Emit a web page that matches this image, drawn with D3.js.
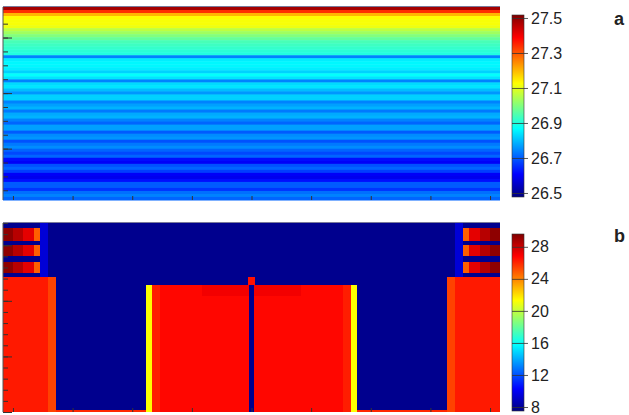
<!DOCTYPE html>
<html>
<head>
<meta charset="utf-8">
<script src="https://cdn.jsdelivr.net/npm/d3@7"></script>
<style>
  body { margin: 0; background: #fff; }
  svg { display: block; font-family: "Liberation Sans", Arial, sans-serif; }
</style>
</head>
<body>
<div id="chart"></div>
<script>
// ---- data ----
// panel a: value of each horizontal layer, top to bottom
var layersA = [27.48, 27.34, 27.20, 27.13, 27.12, 27.12, 27.11, 27.06, 27.03, 27.00,
  26.97, 26.94, 26.93, 26.92, 26.91, 26.90, 26.74, 26.85, 26.86, 26.86,
  26.85, 26.82, 26.87, 26.84, 26.74, 26.83, 26.84, 26.80, 26.76, 26.82,
  26.82, 26.74, 26.77, 26.79, 26.73, 26.78, 26.79, 26.74, 26.71, 26.77,
  26.77, 26.70, 26.75, 26.76, 26.69, 26.73, 26.75, 26.71, 26.68, 26.71,
  26.62, 26.60, 26.69, 26.71, 26.67, 26.60, 26.59, 26.62, 26.70, 26.70,
  26.66, 26.72, 26.74, 26.71];
var ticksA = [26.5, 26.7, 26.9, 27.1, 27.3, 27.5];
var rangeA = [26.477, 27.517];

// panel b: regions [x0, x1, y0, y1, value] in section coordinates
var regionsB = [
  [-250, 250, 0, 170, 7.8],
  // top-left bars
  [-250, -240, 4.5, 16, 29.3], [-240, -230, 4.5, 16, 28.4], [-230, -219, 4.5, 16, 27.4], [-219, -213, 4.5, 16, 24.8],
  [-250, -240, 20, 30, 29.3], [-240, -230, 20, 30, 28.4], [-230, -219, 20, 30, 27.4], [-219, -213, 20, 30, 24.8],
  [-250, -240, 35, 45, 29.3], [-240, -230, 35, 45, 28.4], [-230, -219, 35, 45, 27.4], [-219, -213, 35, 45, 24.8],
  // top-right bars
  [213, 219, 4.5, 16, 24.8], [219, 230, 4.5, 16, 27.4], [230, 240, 4.5, 16, 28.4], [240, 250, 4.5, 16, 29.3],
  [213, 219, 20, 30, 24.8], [219, 230, 20, 30, 27.4], [230, 240, 20, 30, 28.4], [240, 250, 20, 30, 29.3],
  [213, 219, 35, 45, 24.8], [219, 230, 35, 45, 27.4], [230, 240, 35, 45, 28.4], [240, 250, 35, 45, 29.3],
  // thin strips beside the bars
  [-213, -205, 0, 48.5, 9.4], [205, 213, 0, 48.5, 9.4],
  // outer blocks
  [-250, -205, 48.5, 170, 26.3], [-205, -197, 48.5, 170, 25.4],
  [197, 205, 48.5, 170, 25.4], [205, 250, 48.5, 170, 26.3],
  // bottom layer
  [-197, -106, 168, 170, 26.0], [106, 197, 168, 170, 26.0],
  // centre blocks
  [-106, -100, 56, 170, 21.3], [-100, -92, 56, 170, 26.2], [-92, -3, 56, 170, 26.7], [-50, -3, 56, 66, 27.1],
  [3, 92, 56, 170, 26.7], [92, 100, 56, 170, 26.2], [100, 106, 56, 170, 21.3], [3, 50, 56, 66, 27.1],
  [-4, 4, 48.5, 56, 26.5]
];
var ticksB = [8, 12, 16, 20, 24, 28];
var rangeB = [7.5, 29.6];

var xTicks = [-240, -180, -120, -60, 0, 60, 120, 180, 240];
var yTicksA = [0, 10, 20, 30, 40, 50, 60, 70, 80, 90, 100, 110, 120];
var yMajorA = [10, 50, 90];
var yTicksB = [0, 10, 20, 30, 40, 50, 60, 70, 80, 90, 100, 110, 120, 130, 140, 150, 160, 170];
var yMajorB = [20, 70, 120, 170];

// ---- setup ----
var width = 629, height = 415;
var svg = d3.select('#chart').append('svg')
  .attr('width', width)
  .attr('height', height);

var jetStops = [0, 0.125, 0.375, 0.625, 0.875, 1];
var jetColors = ['#000080', '#0000ff', '#00ffff', '#ffff00', '#ff0000', '#800000'];

function jet(range) {
  return d3.scaleLinear()
    .domain(jetStops.map(function(s) { return range[0] + s * (range[1] - range[0]); }))
    .range(jetColors)
    .clamp(true);
}

var colorA = jet(rangeA);
var colorB = jet(rangeB);

var x = d3.scaleLinear().domain([-250, 250]).range([3, 500]);
var yA = d3.scaleLinear().domain([-12, 127]).range([7, 200]);
var rowA = d3.scaleBand().domain(d3.range(layersA.length)).range([7, 200]);
var yB = d3.scaleLinear().domain([0, 170]).range([223, 412]);

// gradient for colorbars
var defs = svg.append('defs');
var grad = defs.append('linearGradient')
  .attr('id', 'jetgrad')
  .attr('x1', 0).attr('y1', 1).attr('x2', 0).attr('y2', 0);
grad.selectAll('stop')
  .data(jetStops)
  .enter().append('stop')
  .attr('offset', function(d) { return d; })
  .attr('stop-color', function(d, i) { return jetColors[i]; });

// ---- panel a ----
var gA = svg.append('g');
gA.selectAll('rect')
  .data(layersA)
  .enter().append('rect')
  .attr('x', x(-250))
  .attr('width', x(250) - x(-250))
  .attr('y', function(d, i) { return rowA(i); })
  .attr('height', rowA.bandwidth() + 0.5)
  .attr('fill', function(d) { return colorA(d); });

// ---- panel b ----
var gB = svg.append('g');
gB.selectAll('rect')
  .data(regionsB)
  .enter().append('rect')
  .attr('x', function(d) { return x(d[0]); })
  .attr('width', function(d) { return x(d[1]) - x(d[0]); })
  .attr('y', function(d) { return yB(d[2]); })
  .attr('height', function(d) { return yB(d[3]) - yB(d[2]); })
  .attr('fill', function(d) { return colorB(d[4]); })
  .attr('shape-rendering', 'crispEdges');

// ---- axes (ticks inside, no labels) ----
function frame(yScale, yTicks, yMajor) {
  var top = yScale.range()[0], bottom = yScale.range()[1];
  var g = svg.append('g');
  g.append('g')
    .attr('transform', 'translate(3,0)')
    .call(d3.axisRight(yScale).tickValues(yTicks).tickSize(5).tickFormat(''))
    .call(function(a) { a.select('.domain').remove(); });
  g.append('g')
    .attr('transform', 'translate(3,0)')
    .call(d3.axisRight(yScale).tickValues(yMajor).tickSize(9).tickFormat(''))
    .call(function(a) { a.select('.domain').remove(); });
  g.append('g')
    .attr('transform', 'translate(0,' + bottom + ')')
    .call(d3.axisTop(x).tickValues(xTicks).tickSize(4).tickFormat(''))
    .call(function(a) { a.select('.domain').remove(); });
  g.selectAll('.tick line').attr('stroke', '#333');
  g.append('line')
    .attr('x1', 3).attr('x2', 3).attr('y1', top).attr('y2', bottom)
    .attr('stroke', '#555');
  g.append('line')
    .attr('x1', 3).attr('x2', 500).attr('y1', top - 0.5).attr('y2', top - 0.5)
    .attr('stroke', '#7a7a9a');
}
frame(yA, yTicksA, yMajorA);
frame(yB, yTicksB, yMajorB);

// ---- colorbars ----
function colorbar(range, top, bottom, ticks, fmt, letter, letterY) {
  var s = d3.scaleLinear().domain(range).range([bottom, top]);
  svg.append('rect')
    .attr('x', 512).attr('y', top)
    .attr('width', 12).attr('height', bottom - top)
    .attr('fill', 'url(#jetgrad)')
    .attr('stroke', '#333')
    .attr('stroke-width', 0.6);
  var ax = svg.append('g')
    .attr('transform', 'translate(524,0)')
    .call(d3.axisRight(s).tickValues(ticks).tickSize(4).tickPadding(3).tickFormat(fmt));
  ax.select('.domain').remove();
  ax.selectAll('.tick line').attr('x1', -12).attr('stroke', '#333').attr('stroke-opacity', 0.8);
  ax.selectAll('.tick text')
    .attr('fill', '#222')
    .style('font-size', '16px')
    .style('font-family', '"Liberation Sans", Arial, sans-serif');
  svg.append('text')
    .attr('x', 614)
    .attr('y', letterY)
    .style('font-size', '18px')
    .style('font-weight', 'bold')
    .attr('fill', '#222')
    .text(letter);
}
colorbar(rangeA, 15, 197, ticksA, d3.format('.1f'), 'a', 25);
colorbar(rangeB, 234, 411, ticksB, d3.format('d'), 'b', 242);
</script>
</body>
</html>
